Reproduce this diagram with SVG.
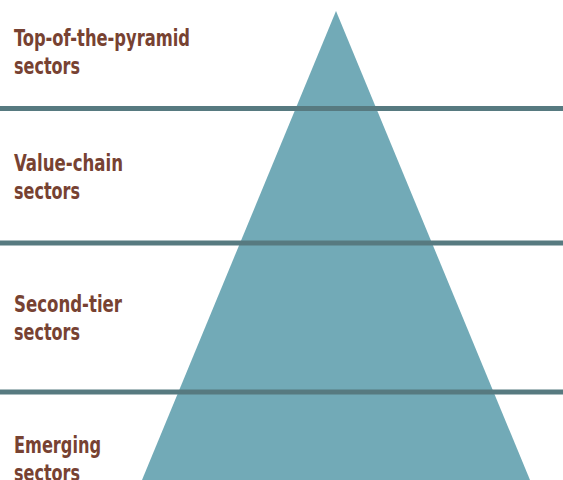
<svg xmlns="http://www.w3.org/2000/svg" width="563" height="480" viewBox="0 0 563 480">
<style>
.lbl{font-family:"DejaVu Sans Condensed","Liberation Sans Narrow","Liberation Sans",sans-serif;font-size:23.5px;fill:#774232;font-weight:bold}
.band{stroke:#577a80;stroke-width:5}
</style>
<rect width="563" height="480" fill="#ffffff"/>
<g id="pyramid"><polygon points="336,11 530,480 142,480" fill="#72aab7"/></g>
<g id="connectors">
<line class="band" x1="0" y1="108.5" x2="563" y2="108.5"/>
<line class="band" x1="0" y1="243" x2="563" y2="243"/>
<line class="band" x1="0" y1="392" x2="563" y2="392"/>
</g>
<g id="top"><text class="lbl" x="14" y="46" textLength="176" lengthAdjust="spacingAndGlyphs">Top-of-the-pyramid</text><text class="lbl" x="14" y="74" textLength="66" lengthAdjust="spacingAndGlyphs">sectors</text></g>
<g id="value"><text class="lbl" x="14" y="171" textLength="109" lengthAdjust="spacingAndGlyphs">Value-chain</text><text class="lbl" x="14" y="199" textLength="66" lengthAdjust="spacingAndGlyphs">sectors</text></g>
<g id="second"><text class="lbl" x="14" y="312" textLength="108" lengthAdjust="spacingAndGlyphs">Second-tier</text><text class="lbl" x="14" y="340" textLength="66" lengthAdjust="spacingAndGlyphs">sectors</text></g>
<g id="emerging"><text class="lbl" x="14" y="453" textLength="87" lengthAdjust="spacingAndGlyphs">Emerging</text><text class="lbl" x="14" y="481" textLength="66" lengthAdjust="spacingAndGlyphs">sectors</text></g>
</svg>
